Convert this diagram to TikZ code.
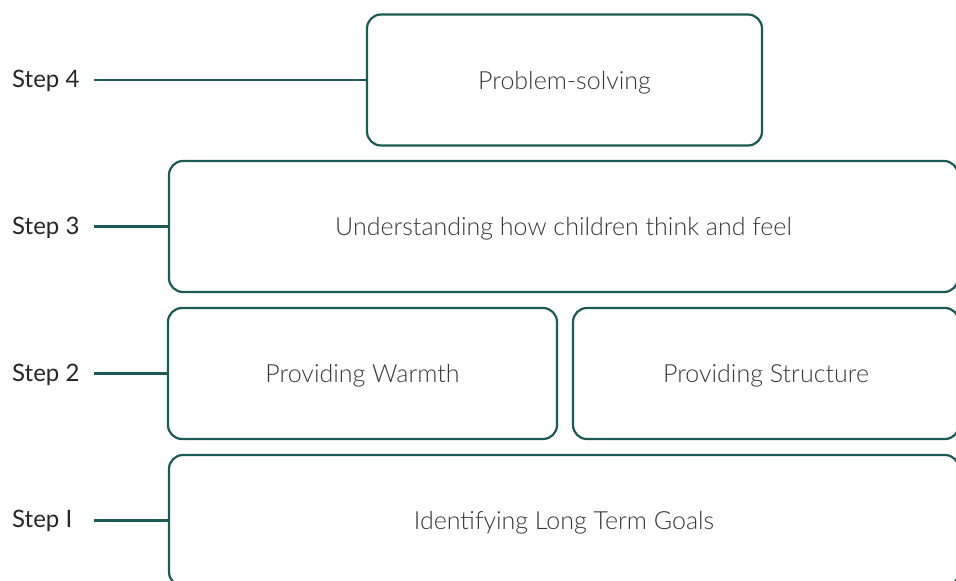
\documentclass[tikz,border=0pt]{standalone}
\usepackage{fontspec}
\setmainfont{Lato}[UprightFont=* Light]
\newfontfamily\labelfont{Lato}
\definecolor{teal1}{RGB}{30,90,85}
\definecolor{txt}{RGB}{55,55,55}
\begin{document}
\begin{tikzpicture}[x=1pt,y=-1pt,
  stepbox/.style={draw=teal1,line width=2.2pt,rounded corners=14pt,minimum width=#1,minimum height=131pt,inner sep=0pt,text height=18pt,text depth=0pt,text=txt,font=\fontsize{25}{28}\selectfont},
  steplabel/.style={anchor=west,inner sep=0pt,font=\labelfont\fontsize{24}{27}\selectfont,text=black!85},
  conn/.style={draw=teal1,line width=2.2pt}]
\useasboundingbox (0,0) rectangle (956,581);
\clip (0,0) rectangle (956,581);
\node[stepbox=395pt] (b4) at (564.5,80) {Problem-solving};
\node[stepbox=789pt] (b3) at (563.5,226.5) {Understanding how children think and feel};
\node[stepbox=389pt] (b2a) at (362.5,373.5) {Providing Warmth};
\node[stepbox=386pt] (b2b) at (766,373.5) {Providing Structure};
\node[stepbox=790pt] (b1) at (564,520.5) {Identifying Long Term Goals};
\node[steplabel] (s4) at (12,81) {Step 4};
\node[steplabel] (s3) at (12,228) {Step 3};
\node[steplabel] (s2) at (12,375) {Step 2};
\node[steplabel] (s1) at (12,521) {Step I};
\coordinate (xl) at (94,0);
\coordinate (c4) at (b4.west -| xl);
\coordinate (c3) at (b3.west -| xl);
\coordinate (c2) at (b2a.west -| xl);
\coordinate (c1) at (b1.west -| xl);
\draw[conn] (c4) -- (b4.west);
\draw[conn] (c3) -- (b3.west);
\draw[conn] (c2) -- (b2a.west);
\draw[conn] (c1) -- (b1.west);
\end{tikzpicture}
\end{document}
